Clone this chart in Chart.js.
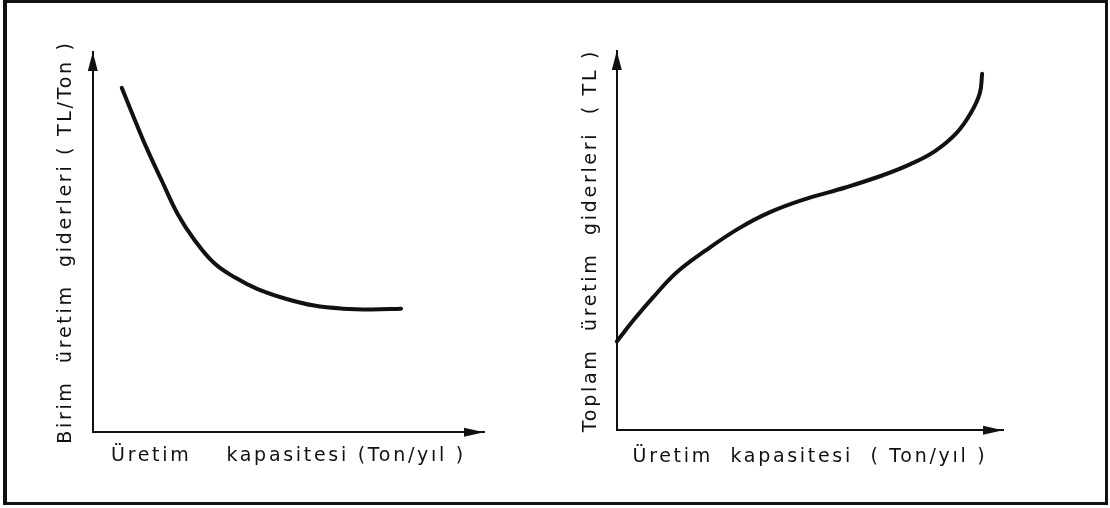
<!DOCTYPE html>
<html>
<head>
<meta charset="utf-8">
<script src="https://cdn.jsdelivr.net/npm/chart.js@4/dist/chart.umd.min.js"></script>
<style>
  html, body { margin: 0; padding: 0; background: #fff; }
  #wrap { position: relative; width: 1110px; height: 508px; overflow: hidden; background: #fff; }
  #frame { position: absolute; left: 3px; top: 0px; width: 1105px; height: 505px; box-sizing: border-box;
           border: 3px solid #111; border-left-width: 4px; }
  canvas { position: absolute; top: 0; }
  #c1 { left: 0; }
  #c2 { left: 555px; }
</style>
</head>
<body>
<div id="wrap">
  <div id="frame"></div>
  <canvas id="c1" width="555" height="508"></canvas>
  <canvas id="c2" width="555" height="508"></canvas>
</div>
<script>
// ---- data (relative units, 0-100 on both axes; no numeric ticks in the original) ----
const capacityLeft = [7.4, 10.4, 13.6, 17.7, 21.8, 25.9, 31.0, 36.5, 42.0, 49.3, 56.6, 63.9, 71.3, 78.8];
const unitCost     = [90.6, 83.0, 75.1, 66.0, 57.2, 50.7, 44.5, 40.6, 37.7, 35.1, 33.3, 32.5, 32.3, 32.5];

const capacityRight = [0.0, 4.4, 9.1, 15.6, 23.0, 31.4, 39.7, 49.0, 59.2, 68.5, 75.9, 82.4, 88.0, 91.7, 94.0, 94.6];
const totalCost     = [23.4, 29.1, 34.7, 41.7, 47.4, 53.1, 57.5, 61.0, 64.0, 67.1, 70.1, 73.6, 78.4, 83.7, 88.9, 94.0];

const xTitleLeft  = 'Üretim    kapasitesi (Ton/yıl )';
const yTitleLeft  = 'Birim  üretim  giderleri ( TL/Ton )';
const xTitleRight = 'Üretim  kapasitesi  ( Ton/yıl )';
const yTitleRight = 'Toplam  üretim  giderleri  ( TL )';

const INK = '#111';
const FONT = { family: '"DejaVu Sans", sans-serif', size: 19, lineHeight: 1.2 };

const arrowPlugin = {
  id: 'arrows',
  beforeDraw(chart) { chart.ctx.letterSpacing = '2.7px'; },
  afterDraw(chart) {
    const ctx = chart.ctx;
    const xs = chart.scales.x, ys = chart.scales.y;
    const x0 = xs.left, yTop = ys.top, xEnd = xs.right, y0 = ys.bottom;
    ctx.save();
    ctx.fillStyle = INK;
    // up arrow on y axis
    ctx.beginPath();
    ctx.moveTo(x0, yTop);
    ctx.lineTo(x0 - 5, yTop + 19);
    ctx.lineTo(x0 + 5, yTop + 19);
    ctx.closePath();
    ctx.fill();
    // right arrow on x axis
    ctx.beginPath();
    ctx.moveTo(xEnd, y0);
    ctx.lineTo(xEnd - 20, y0 - 4.5);
    ctx.lineTo(xEnd - 20, y0 + 4.5);
    ctx.closePath();
    ctx.fill();
    ctx.restore();
    ctx.letterSpacing = '0px';
  }
};

function makeChart(id, xs, ys, xTitle, yTitle, pad, xTitlePad, yTitlePad) {
  return new Chart(document.getElementById(id), {
    type: 'line',
    data: {
      datasets: [{
        data: xs.map((x, i) => ({ x: x, y: ys[i] })),
        borderColor: INK,
        borderWidth: 4,
        pointRadius: 0,
        tension: 0.4,
        borderCapStyle: 'round',
        fill: false,
        clip: false
      }]
    },
    options: {
      responsive: false,
      animation: false,
      devicePixelRatio: 1,
      layout: { padding: pad },
      plugins: { legend: { display: false }, tooltip: { enabled: false } },
      scales: {
        x: {
          type: 'linear', min: 0, max: 100,
          ticks: { display: false },
          grid: { display: false, drawTicks: false },
          border: { display: true, color: INK, width: 2 },
          title: { display: true, text: xTitle, color: INK, font: FONT, padding: xTitlePad }
        },
        y: {
          type: 'linear', min: 0, max: 100,
          ticks: { display: false },
          grid: { display: false, drawTicks: false },
          border: { display: true, color: INK, width: 2 },
          title: { display: true, text: yTitle, color: INK, font: FONT, padding: yTitlePad }
        }
      }
    },
    plugins: [arrowPlugin]
  });
}

makeChart('c1', capacityLeft, unitCost, xTitleLeft, yTitleLeft,
  { left: 55, right: 71, top: 52, bottom: 41 },
  { top: 12, bottom: 0 }, { top: 0, bottom: 15 });

makeChart('c2', capacityRight, totalCost, xTitleRight, yTitleRight,
  { left: 25, right: 107, top: 51, bottom: 40 },
  { top: 15, bottom: 0 }, { top: 0, bottom: 14 });
</script>
</body>
</html>
